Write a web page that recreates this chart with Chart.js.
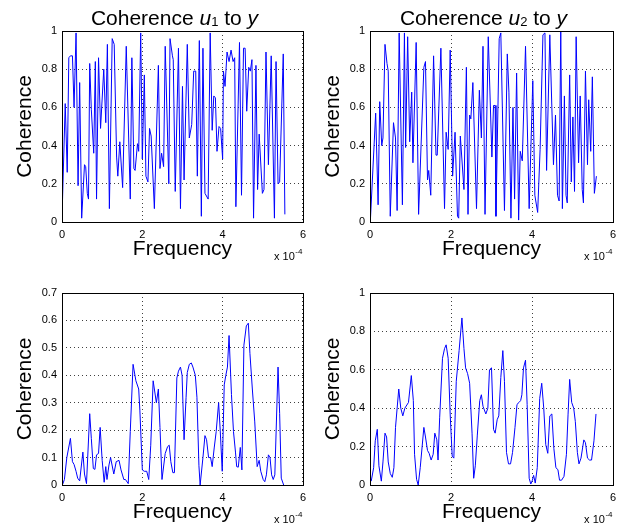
<!DOCTYPE html>
<html lang="en">
<head>
<meta charset="UTF-8">
<title>Coherence</title>
<script src="https://cdn.jsdelivr.net/npm/chart.js@4.4.1/dist/chart.umd.min.js"></script>
<style>
  body { margin: 0; background: #fff; }
  #fig { position: relative; width: 624px; height: 526px; }
  #fig canvas { position: absolute; }
</style>
</head>
<body>
<div id="fig">
  <canvas id="c11" width="312" height="263" style="left:0;top:0"></canvas>
  <canvas id="c12" width="316" height="263" style="left:308px;top:0"></canvas>
  <canvas id="c21" width="312" height="263" style="left:0;top:263px"></canvas>
  <canvas id="c22" width="316" height="263" style="left:308px;top:263px"></canvas>
</div>
<script>
// frequencies are in units of 1e-4 (the axis shows "x 10^-4")
var xTicks = [0, 2, 4, 6];
var yTicksFull = [0, 0.2, 0.4, 0.6, 0.8, 1];
var yTicksLow = [0, 0.1, 0.2, 0.3, 0.4, 0.5, 0.6, 0.7];

// top left: coherence u1 -> y
var freqU1 = [0.00,0.08,0.13,0.17,0.21,0.26,0.30,0.35,0.40,0.44,
  0.49,0.56,0.59,0.63,0.66,0.69,0.73,0.79,0.83,0.86,
  0.91,0.96,1.04,1.09,1.13,1.18,1.25,1.30,1.36,1.39,
  1.44,1.51,1.60,1.70,1.74,1.79,1.82,1.88,1.91,1.96,
  2.00,2.05,2.09,2.14,2.18,2.22,2.30,2.40,2.44,2.48,
  2.53,2.57,2.66,2.69,2.75,2.77,2.82,2.90,2.95,3.00,
  3.04,3.12,3.17,3.23,3.28,3.33,3.37,3.42,3.47,3.51,
  3.56,3.64,3.69,3.74,3.78,3.82,3.86,3.91,3.95,4.00,
  4.02,4.06,4.11,4.16,4.21,4.26,4.30,4.33,4.42,4.47,
  4.52,4.56,4.60,4.65,4.69,4.73,4.77,4.83,4.87,4.91,
  4.99,5.03,5.08,5.14,5.21,5.29,5.33,5.38,5.42,5.51,5.55];
var cohU1 = [0.02,0.62,0.26,0.86,0.87,0.87,0.60,0.99,0.19,0.73,
  0.02,0.30,0.29,0.15,0.12,0.83,0.59,0.36,0.84,0.12,
  0.86,0.49,0.80,0.52,0.93,0.07,0.96,0.93,0.34,0.24,
  0.42,0.18,0.92,0.12,0.86,0.28,0.27,0.41,0.37,0.99,
  0.33,0.77,0.24,0.21,0.49,0.45,0.07,0.82,0.28,0.36,
  0.29,0.92,0.20,0.96,0.87,0.85,0.16,0.91,0.07,0.71,
  0.22,0.93,0.44,0.51,0.79,0.79,0.24,0.95,0.03,0.91,
  0.15,0.12,0.99,0.48,0.66,0.65,0.37,0.50,0.49,0.33,
  0.79,0.71,0.89,0.84,0.90,0.84,0.86,0.08,0.94,0.14,
  0.91,0.91,0.58,0.81,0.79,0.85,0.02,0.82,0.17,0.46,
  0.15,0.17,0.89,0.30,0.87,0.02,0.84,0.20,0.21,0.88,0.04];

// top right: coherence u2 -> y
var freqU2 = [0.01,0.14,0.20,0.24,0.29,0.32,0.37,0.42,0.45,0.50,
  0.58,0.63,0.67,0.72,0.80,0.85,0.88,0.93,0.98,1.03,
  1.06,1.14,1.20,1.33,1.37,1.42,1.45,1.50,1.57,1.63,
  1.66,1.75,1.84,1.88,1.93,1.98,2.04,2.10,2.16,2.19,
  2.23,2.32,2.38,2.42,2.46,2.49,2.54,2.63,2.70,2.75,
  2.79,2.84,2.92,3.01,3.05,3.09,3.11,3.19,3.23,3.32,
  3.39,3.43,3.48,3.53,3.57,3.62,3.67,3.71,3.76,3.84,
  3.93,4.02,4.07,4.14,4.20,4.27,4.32,4.36,4.44,4.53,
  4.58,4.63,4.67,4.71,4.75,4.80,4.84,4.87,4.93,4.97,
  5.01,5.05,5.09,5.15,5.19,5.24,5.27,5.32,5.37,5.40,
  5.45,5.49,5.54,5.59];
var cohU2 = [0.01,0.57,0.09,0.63,0.40,0.44,0.93,0.83,0.79,0.03,
  0.52,0.44,0.06,0.99,0.09,0.99,0.39,0.97,0.42,0.68,
  0.31,0.94,0.04,0.81,0.84,0.22,0.27,0.14,0.87,0.35,
  0.35,0.91,0.07,0.47,0.38,0.90,0.24,0.47,0.03,0.02,
  0.45,0.17,0.81,0.04,0.56,0.54,0.73,0.07,0.69,0.44,
  0.92,0.04,0.97,0.34,0.61,0.61,0.03,0.96,0.99,0.06,
  0.88,0.68,0.02,0.60,0.12,0.78,0.01,0.37,0.32,0.92,
  0.07,0.74,0.14,0.05,0.38,0.98,0.99,0.27,0.98,0.30,
  0.56,0.14,0.11,1.00,0.07,0.66,0.14,0.10,0.77,0.21,
  0.55,0.16,0.97,0.31,0.66,0.17,0.10,0.79,0.30,0.64,
  0.37,0.76,0.15,0.24];

// bottom left
var freqLowL = [0.01,0.06,0.12,0.21,0.26,0.30,0.35,0.39,0.44,0.52,
  0.56,0.61,0.69,0.73,0.78,0.82,0.86,0.91,0.95,1.00,
  1.05,1.09,1.12,1.17,1.21,1.29,1.35,1.42,1.47,1.54,
  1.58,1.65,1.70,1.77,1.84,1.91,1.94,2.00,2.05,2.11,
  2.16,2.21,2.27,2.35,2.40,2.44,2.49,2.57,2.63,2.67,
  2.71,2.76,2.80,2.86,2.90,2.95,2.99,3.04,3.09,3.12,
  3.17,3.22,3.26,3.32,3.36,3.41,3.44,3.51,3.56,3.60,
  3.65,3.70,3.74,3.79,3.84,3.90,3.94,3.99,4.04,4.08,
  4.12,4.16,4.22,4.27,4.32,4.35,4.39,4.44,4.48,4.53,
  4.59,4.64,4.68,4.74,4.80,4.86,4.91,4.95,5.01,5.05,
  5.09,5.14,5.18,5.22,5.26,5.30,5.38,5.42,5.46,5.52];
var cohLowL = [0.00,0.02,0.10,0.17,0.085,0.075,0.05,0.025,0.015,0.12,
  0.04,0.005,0.26,0.17,0.06,0.057,0.11,0.115,0.21,0.09,
  0.01,0.067,0.02,0.073,0.10,0.04,0.085,0.09,0.055,0.02,
  0.02,0.005,0.195,0.44,0.38,0.35,0.27,0.055,0.05,0.05,
  0.02,0.145,0.38,0.30,0.35,0.21,0.02,0.115,0.14,0.145,
  0.085,0.045,0.045,0.39,0.415,0.43,0.40,0.165,0.32,0.41,
  0.44,0.445,0.43,0.40,0.32,0.07,0.00,0.10,0.18,0.165,
  0.10,0.10,0.067,0.135,0.195,0.30,0.20,0.05,0.365,0.40,
  0.43,0.545,0.33,0.195,0.12,0.067,0.065,0.137,0.055,0.51,
  0.58,0.59,0.48,0.35,0.23,0.067,0.09,0.05,0.02,0.012,
  0.037,0.11,0.10,0.037,0.02,0.037,0.43,0.26,0.025,0.00];

// bottom right
var freqLowR = [0.03,0.09,0.13,0.18,0.22,0.28,0.32,0.37,0.41,0.45,
  0.50,0.55,0.59,0.63,0.71,0.76,0.81,0.86,0.95,1.02,
  1.07,1.10,1.15,1.19,1.24,1.33,1.37,1.42,1.46,1.51,
  1.56,1.60,1.65,1.68,1.72,1.79,1.84,1.88,1.93,1.98,
  2.03,2.07,2.13,2.20,2.27,2.32,2.36,2.41,2.46,2.52,
  2.56,2.60,2.65,2.71,2.75,2.79,2.86,2.91,2.95,3.00,
  3.05,3.09,3.14,3.18,3.23,3.28,3.32,3.37,3.42,3.47,
  3.52,3.58,3.63,3.68,3.72,3.75,3.79,3.84,3.88,3.93,
  3.97,4.01,4.04,4.08,4.13,4.19,4.24,4.29,4.34,4.39,
  4.44,4.49,4.54,4.59,4.64,4.68,4.73,4.79,4.85,4.89,
  4.93,4.98,5.03,5.07,5.12,5.16,5.21,5.28,5.32,5.37,
  5.42,5.47,5.53,5.58];
var cohLowR = [0.02,0.09,0.23,0.29,0.10,0.02,0.12,0.27,0.25,0.12,
  0.06,0.04,0.09,0.30,0.50,0.40,0.36,0.40,0.43,0.57,
  0.44,0.16,0.03,0.00,0.09,0.30,0.25,0.18,0.165,0.13,
  0.16,0.27,0.235,0.13,0.35,0.66,0.71,0.73,0.66,0.365,
  0.15,0.14,0.54,0.70,0.87,0.71,0.61,0.58,0.53,0.27,
  0.035,0.10,0.26,0.44,0.47,0.41,0.37,0.40,0.60,0.61,
  0.29,0.27,0.34,0.36,0.56,0.70,0.54,0.17,0.11,0.11,
  0.17,0.30,0.42,0.43,0.44,0.47,0.61,0.65,0.42,0.035,
  0.005,0.025,0.05,0.01,0.09,0.45,0.53,0.40,0.21,0.165,
  0.36,0.37,0.19,0.09,0.08,0.025,0.025,0.045,0.16,0.365,
  0.55,0.43,0.40,0.33,0.17,0.11,0.14,0.235,0.22,0.14,
  0.13,0.13,0.23,0.37];

var FONT = '"Liberation Sans", Arial, Helvetica, sans-serif';

// MATLAB-like frame: box, optional title with italic/subscript parts, axis exponent
const matlabFrame = {
  id: 'matlabFrame',
  afterDraw(chart, args, opts) {
    const ctx = chart.ctx, a = chart.chartArea;
    ctx.save();
    ctx.strokeStyle = '#000';
    ctx.lineWidth = 1;
    ctx.strokeRect(Math.round(a.left) + 0.5, Math.round(a.top) + 0.5,
      Math.round(a.right - a.left), Math.round(a.bottom - a.top));
    ctx.fillStyle = '#000';
    ctx.textBaseline = 'alphabetic';

    if (opts.sub) {
      const parts = [
        { t: 'Coherence ', f: '21px ' + FONT, dy: 0 },
        { t: 'u', f: 'italic 21px ' + FONT, dy: 0 },
        { t: opts.sub, f: '13px ' + FONT, dy: 1 },
        { t: ' to ', f: '21px ' + FONT, dy: 0 },
        { t: 'y', f: 'italic 21px ' + FONT, dy: 0 }
      ];
      let total = 0;
      parts.forEach(p => { ctx.font = p.f; p.w = ctx.measureText(p.t).width; total += p.w; });
      let x = (a.left + a.right) / 2 - 8 - total / 2;
      parts.forEach(p => { ctx.font = p.f; ctx.fillText(p.t, x, 25 + p.dy); x += p.w; });
    }

    // x 10^-4
    ctx.font = '8px ' + FONT;
    const ew = ctx.measureText('-4').width;
    ctx.font = '11px ' + FONT;
    const bw = ctx.measureText('x 10').width;
    const x0 = a.right - 1 - ew - bw;
    ctx.fillText('x 10', x0, a.bottom + 38);
    ctx.font = '8px ' + FONT;
    ctx.fillText('-4', x0 + bw + 0.5, a.bottom + 32);
    ctx.restore();
  }
};

function makePanel(id, freq, coh, yMax, yTicks, sub, padTop, padRight) {
  const gridOpts = { color: 'rgba(0,0,0,0.75)', lineWidth: 1, drawTicks: false };
  const borderOpts = { display: false, dash: [1, 3] };
  return new Chart(document.getElementById(id), {
    type: 'line',
    data: {
      datasets: [{
        data: freq.map((f, i) => ({ x: f, y: coh[i] })),
        borderColor: '#0000ff',
        borderWidth: 1,
        pointRadius: 0,
        tension: 0,
        fill: false
      }]
    },
    plugins: [matlabFrame],
    options: {
      responsive: false,
      animation: false,
      devicePixelRatio: 1,
      layout: { padding: { top: padTop, right: padRight, left: 0, bottom: 0 } },
      plugins: {
        legend: { display: false },
        tooltip: { enabled: false },
        matlabFrame: { sub: sub }
      },
      scales: {
        x: {
          type: 'linear',
          min: 0, max: 6,
          afterBuildTicks: s => { s.ticks = xTicks.map(v => ({ value: v })); },
          afterFit: s => { s.height = 41; },
          grid: gridOpts,
          border: borderOpts,
          ticks: { color: '#000', font: { family: FONT, size: 11 }, padding: 6, maxRotation: 0,
            callback: v => String(v) },
          title: { display: true, text: 'Frequency', color: '#000',
            font: { family: FONT, size: 21 }, padding: { top: 0, bottom: 1 } }
        },
        y: {
          min: 0, max: yMax,
          afterBuildTicks: s => { s.ticks = yTicks.map(v => ({ value: v })); },
          afterFit: s => { s.width = 62; },
          grid: gridOpts,
          border: borderOpts,
          ticks: { color: '#000', font: { family: FONT, size: 11 }, padding: 5,
            callback: v => String(+v.toFixed(2)) },
          title: { display: true, text: 'Coherence', color: '#000',
            font: { family: FONT, size: 21 }, padding: { top: 13, bottom: 0 } }
        }
      }
    }
  });
}

var c11 = makePanel('c11', freqU1, cohU1, 1, yTicksFull, '1', 31, 7);
var c12 = makePanel('c12', freqU2, cohU2, 1, yTicksFull, '2', 31, 11);
var c21 = makePanel('c21', freqLowL, cohLowL, 0.7, yTicksLow, null, 30, 7);
var c22 = makePanel('c22', freqLowR, cohLowR, 1, yTicksFull, null, 30, 11);
</script>
</body>
</html>
